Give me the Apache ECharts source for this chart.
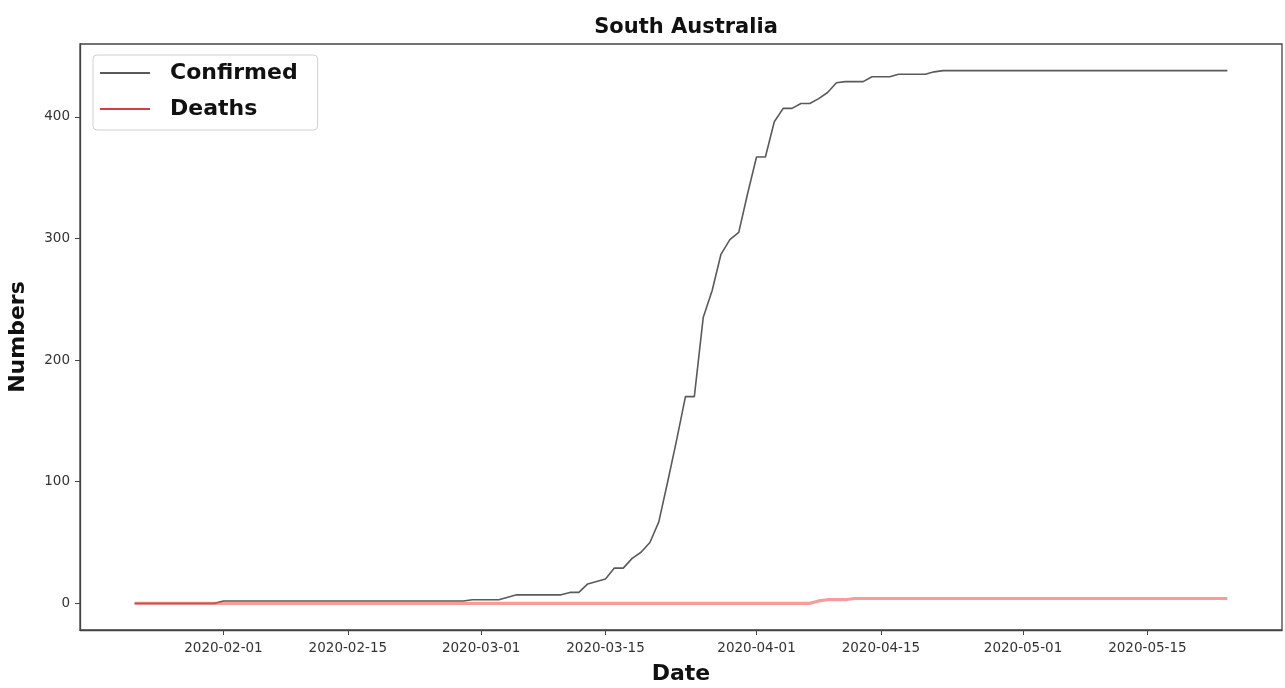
<!DOCTYPE html>
<html>
<head>
<meta charset="utf-8">
<script src="https://cdn.jsdelivr.net/npm/echarts@6/dist/echarts.min.js"></script>
<style>
html,body{margin:0;padding:0;background:#fff;}
#chart{width:1285px;height:688px;}
</style>
</head>
<body>
<div id="chart"></div>
<script>
// ---- data ----
const startDate = '2020-01-22';   // first day of the daily series
const confirmed = [
  // Jan 22-31
  0,0,0,0,0,0,0,0,0,0,
  // Feb 1-29
  2,2,2,2,2,2,2,2,2,2,2,2,2,2,2,2,2,2,2,2,2,2,2,2,2,2,2,2,3,
  // Mar 1-31
  3,3,3,5,7,7,7,7,7,7,9,9,16,18,20,29,29,37,42,50,67,100,134,170,170,235,257,287,299,305,337,
  // Apr 1-30
  367,367,396,407,407,411,411,415,420,428,429,429,429,433,433,433,435,435,435,435,437,438,438,438,438,438,438,438,438,438,
  // May 1-24
  438,438,438,438,438,438,438,438,438,438,438,438,438,438,438,438,438,438,438,438,438,438,438,438
];
const deaths = [
  // Jan 22-31
  0,0,0,0,0,0,0,0,0,0,
  // Feb 1-29
  0,0,0,0,0,0,0,0,0,0,0,0,0,0,0,0,0,0,0,0,0,0,0,0,0,0,0,0,0,
  // Mar 1-31
  0,0,0,0,0,0,0,0,0,0,0,0,0,0,0,0,0,0,0,0,0,0,0,0,0,0,0,0,0,0,0,
  // Apr 1-30
  0,0,0,0,0,0,0,2,3,3,3,4,4,4,4,4,4,4,4,4,4,4,4,4,4,4,4,4,4,4,
  // May 1-24
  4,4,4,4,4,4,4,4,4,4,4,4,4,4,4,4,4,4,4,4,4,4,4,4
];
const xTickLabels = ['2020-02-01','2020-02-15','2020-03-01','2020-03-15','2020-04-01','2020-04-15','2020-05-01','2020-05-15'];
const yTicks = [0,100,200,300,400];
const seriesNames = ['Confirmed','Deaths'];

// ---- helpers ----
const DAY = 86400000;
const t0 = Date.parse(startDate + 'T00:00:00Z');
const dayIndex = s => Math.round((Date.parse(s + 'T00:00:00Z') - t0) / DAY);
const dayLabel = d => new Date(t0 + d * DAY).toISOString().slice(0, 10);
const toPairs = arr => arr.map((v, i) => [i, v]);

const n = confirmed.length - 1;
const xMin = -0.05 * n, xMax = n + 0.05 * n;
const yMaxData = Math.max(...confirmed);
const yMin = -0.05 * yMaxData, yMax = yMaxData * 1.05;
const xTickVals = xTickLabels.map(dayIndex);

const chart = echarts.init(document.getElementById('chart'), null, {renderer: 'canvas'});
const font = 'DejaVu Sans';
chart.setOption({
  animation: false,
  backgroundColor: '#fff',
  title: {
    text: 'South Australia',
    left: 681, top: 12, textAlign: 'center',
    textStyle: {fontFamily: font, fontSize: 21, fontWeight: 'bold', color: '#111'}
  },
  legend: {
    left: 93, top: 55,
    orient: 'vertical',
    icon: 'rect',
    itemWidth: 50, itemHeight: 2, itemGap: 12,
    padding: [6, 20, 9, 7],
    borderColor: '#d0d0d0', borderWidth: 1, borderRadius: 4,
    backgroundColor: '#fff',
    textStyle: {fontFamily: font, fontSize: 22, fontWeight: 'bold', color: '#111', lineHeight: 24, padding: [0, 0, 0, 15]},
    data: seriesNames
  },
  grid: {
    left: 80, right: 3, top: 44, bottom: 58,
    outerBoundsMode: 'none', containLabel: false,
    show: true, borderColor: '#444', borderWidth: 1.3, backgroundColor: '#fff'
  },
  xAxis: {
    type: 'value', min: xMin, max: xMax,
    name: 'Date', nameLocation: 'middle', nameGap: 33,
    nameTextStyle: {fontFamily: font, fontSize: 22, fontWeight: 'bold', color: '#111'},
    axisLine: {show: true, onZero: false, lineStyle: {color: '#444', width: 1.3}},
    axisTick: {show: true, length: 5, lineStyle: {color: '#444'}, customValues: xTickVals},
    axisLabel: {
      margin: 11, fontFamily: font, fontSize: 13.5, color: '#333',
      customValues: xTickVals,
      formatter: v => dayLabel(v)
    },
    splitLine: {show: false}
  },
  yAxis: {
    type: 'value', min: yMin, max: yMax,
    name: 'Numbers', nameLocation: 'middle', nameGap: 51, nameRotate: 90,
    nameTextStyle: {fontFamily: font, fontSize: 22, fontWeight: 'bold', color: '#111'},
    axisLine: {show: true, onZero: false, lineStyle: {color: '#444', width: 1.3}},
    axisTick: {show: true, length: 5, lineStyle: {color: '#444'}, customValues: yTicks},
    axisLabel: {
      margin: 10, fontFamily: font, fontSize: 13.5, color: '#333',
      customValues: yTicks
    },
    splitLine: {show: false}
  },
  series: [
    {
      name: seriesNames[0], type: 'line', data: toPairs(confirmed),
      symbol: 'none', z: 2,
      lineStyle: {color: '#5a5a5a', width: 1.6},
      itemStyle: {color: '#5a5a5a'}
    },
    {
      name: seriesNames[1], type: 'line', data: toPairs(deaths),
      symbol: 'none', z: 3,
      lineStyle: {color: 'rgba(240,90,90,0.6)', width: 3.2},
      itemStyle: {color: '#d04040'}
    }
  ]
});
</script>
</body>
</html>
